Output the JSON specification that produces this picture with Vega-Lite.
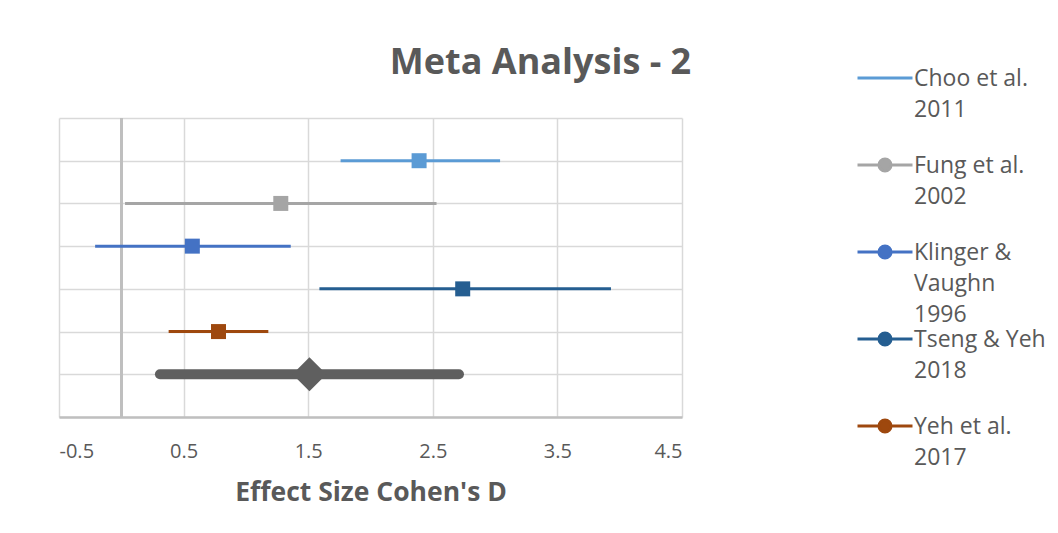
{
  "$schema": "https://vega.github.io/schema/vega-lite/v6.json",
  "autosize": "none",
  "width": 623,
  "height": 299,
  "padding": {"left": 59, "top": 118, "right": 376, "bottom": 116},
  "background": "white",
  "config": {
    "font": "Open Sans",
    "view": {"stroke": null}
  },
  "title": {
    "text": "Meta Analysis - 2",
    "font": "Open Sans",
    "fontSize": 36,
    "fontWeight": "bold",
    "color": "#595959",
    "anchor": "middle",
    "dx": 170,
    "offset": -16
  },
  "data": {
    "values": [
      {"study": "Choo et al. 2011", "row": 6, "est": 2.39, "lo": 1.76, "hi": 3.04, "kind": "study"},
      {"study": "Fung et al. 2002", "row": 5, "est": 1.28, "lo": 0.03, "hi": 2.53, "kind": "study"},
      {"study": "Klinger & Vaughn 1996", "row": 4, "est": 0.57, "lo": -0.21, "hi": 1.36, "kind": "study"},
      {"study": "Tseng & Yeh 2018", "row": 3, "est": 2.74, "lo": 1.59, "hi": 3.93, "kind": "study"},
      {"study": "Yeh et al. 2017", "row": 2, "est": 0.78, "lo": 0.38, "hi": 1.18, "kind": "study"},
      {"study": "Summary", "row": 1, "est": 1.51, "lo": 0.31, "hi": 2.71, "kind": "summary"}
    ]
  },
  "encoding": {
    "y": {
      "field": "row",
      "type": "quantitative",
      "scale": {"domain": [0, 7], "nice": false, "zero": false},
      "axis": {
        "values": [0, 1, 2, 3, 4, 5, 6, 7],
        "labels": false,
        "ticks": false,
        "domain": false,
        "title": null,
        "grid": true,
        "gridColor": "#D9D9D9",
        "gridWidth": 1.5
      }
    }
  },
  "layer": [
    {
      "mark": {"type": "rule", "color": "#BFBFBF", "strokeWidth": 2.5},
      "encoding": {
        "x": {"datum": 0, "type": "quantitative"},
        "y": null
      }
    },
    {
      "transform": [{"filter": "datum.kind === 'study'"}],
      "mark": {"type": "rule", "strokeWidth": 3},
      "encoding": {
        "x": {
          "field": "lo",
          "type": "quantitative",
          "scale": {"domain": [-0.5, 4.5], "nice": false, "zero": false},
          "axis": {
            "values": [-0.5, 0.5, 1.5, 2.5, 3.5, 4.5],
            "format": ".1f",
            "labelExpr": "replace(datum.label, '\u2212', '-')",
            "title": "Effect Size Cohen's D",
            "titleFont": "Open Sans",
            "titleFontSize": 26.5,
            "titleFontWeight": "bold",
            "titleColor": "#595959",
            "titlePadding": 18,
            "labelFont": "Open Sans",
            "labelFontSize": 20,
            "labelColor": "#595959",
            "labelPadding": 24,
            "ticks": false,
            "domain": true,
            "domainColor": "#BFBFBF",
            "domainWidth": 2.5,
            "grid": true,
            "gridColor": "#D9D9D9",
            "gridWidth": 1.5
          }
        },
        "x2": {"field": "hi"},
        "color": {
          "field": "study",
          "type": "nominal",
          "scale": {
            "domain": ["Choo et al. 2011", "Fung et al. 2002", "Klinger & Vaughn 1996", "Tseng & Yeh 2018", "Yeh et al. 2017"],
            "range": ["#5B9BD5", "#A5A5A5", "#4472C4", "#255E91", "#9E480E"]
          },
          "legend": {
            "orient": "none",
            "legendX": 797,
            "legendY": -52,
            "title": null,
            "gridAlign": "all",
            "rowPadding": 0,
            "clipHeight": 86.7,
            "symbolSize": 3025,
            "symbolStrokeWidth": 3,
            "labelFont": "Open Sans",
            "labelFontSize": 23,
            "labelColor": "#595959",
            "labelOffset": 0,
            "labelBaseline": "top",
            "labelLimit": 300,
            "labelExpr": "datum.label === 'Choo et al. 2011' ? ['Choo et al.', '2011'] : datum.label === 'Fung et al. 2002' ? ['Fung et al.', '2002'] : datum.label === 'Klinger & Vaughn 1996' ? ['Klinger &', 'Vaughn', '1996'] : datum.label === 'Tseng & Yeh 2018' ? ['Tseng & Yeh', '2018'] : ['Yeh et al.', '2017']",
            "encode": {
              "symbols": {
                "update": {
                  "shape": {"signal": "datum.value === 'Choo et al. 2011' ? 'M-1,0H1' : 'M-1,0H-0.22M0.22,0H1M0.22,0A0.22,0.22,0,1,1,-0.22,0A0.22,0.22,0,1,1,0.22,0'"},
                  "fill": {"scale": "color", "field": "value"},
                  "stroke": {"scale": "color", "field": "value"},
                  "strokeWidth": {"value": 3},
                  "fillOpacity": {"value": 1},
                  "opacity": {"value": 1},
                  "y": {"value": 12}
                }
              },
              "labels": {
                "update": {
                  "lineHeight": {"value": 31},
                  "y": {"value": 2}
                }
              }
            }
          }
        }
      }
    },
    {
      "transform": [{"filter": "datum.kind === 'study'"}],
      "mark": {"type": "point", "shape": "square", "filled": true, "size": 225, "opacity": 1},
      "encoding": {
        "x": {"field": "est", "type": "quantitative"},
        "color": {"field": "study", "type": "nominal"}
      }
    },
    {
      "transform": [{"filter": "datum.kind === 'summary'"}],
      "mark": {"type": "rule", "strokeWidth": 10, "strokeCap": "round", "color": "#5F5F5F"},
      "encoding": {
        "x": {"field": "lo", "type": "quantitative"},
        "x2": {"field": "hi"}
      }
    },
    {
      "transform": [{"filter": "datum.kind === 'summary'"}],
      "mark": {"type": "point", "shape": "diamond", "filled": true, "size": 1156, "color": "#5F5F5F", "opacity": 1},
      "encoding": {
        "x": {"field": "est", "type": "quantitative"}
      }
    }
  ]
}
